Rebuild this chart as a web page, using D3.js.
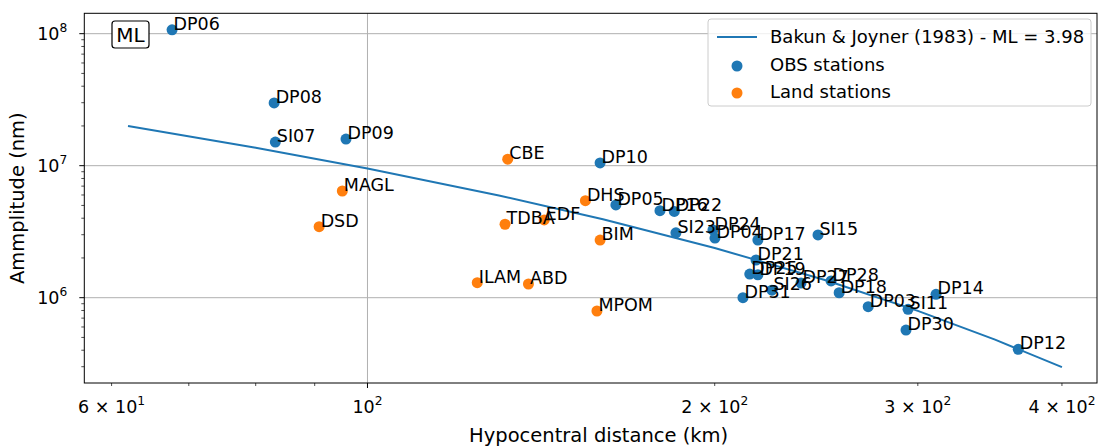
<!DOCTYPE html>
<html><head><meta charset="utf-8">
<script src="https://cdn.jsdelivr.net/npm/d3@7"></script>
<style>body{margin:0;background:#fff}svg{display:block}text{font-family:"DejaVu Sans",sans-serif;fill:#000}</style>
</head><body><svg id="c" width="1100" height="446"></svg>
<script>
// OBS stations
const obsNames = ["DP06","DP08","SI07","DP09","DP10","DP05","DP16","DP22","SI23","DP24","DP04","DP17","SI15","DP21","DP25","DP19","DP31","SI26","DP27","DP28","DP18","DP03","SI11","DP14","DP30","DP12"];
const obsDist  = [67.7,83.0,83.2,95.8,159.1,164.2,179.3,184.5,185.1,199.3,200.1,218.0,245.8,217.2,214.5,218.0,211.6,224.2,237.6,252.3,256.4,271.7,294.2,311.1,293.0,366.6];
const obsAmp   = [1.07e8,2.99e7,1.51e7,1.59e7,1.05e7,5.04e6,4.56e6,4.5e6,3.1e6,3.26e6,2.83e6,2.73e6,2.99e6,1.93e6,1.51e6,1.49e6,1.0e6,1.14e6,1.29e6,1.34e6,1.09e6,8.55e5,8.17e5,1.06e6,5.69e5,4.06e5];
// Land stations
const landNames = ["CBE","MAGL","DSD","TDBA","EDF","DHS","BIM","ILAM","ABD","MPOM"];
const landDist  = [132.3,95.1,90.8,131.6,142.3,154.5,159.1,124.5,137.9,158.1];
const landAmp   = [1.12e7,6.43e6,3.45e6,3.6e6,3.88e6,5.43e6,2.73e6,1.3e6,1.27e6,7.93e5];
// Bakun & Joyner (1983) curve, ML = 3.98
const bjDist = [62,80,100,130,160,200,250,300,350,400];
const bjAmp  = [2.0e7,1.37e7,9.53e6,5.95e6,3.93e6,2.38e6,1.35e6,7.94e5,4.81e5,2.98e5];
// axes ticks
const xTickVals = [60,100,200,300,400];
const xTickMant = ["6","","2","3","4"];
const xTickExp  = ["1","2","2","2","2"];
const xMinor = [60,70,80,90,200,300,400];
const yTickVals = [1e6,1e7,1e8];
const yTickExp  = ["6","7","8"];
const legendLabels = ["Bakun & Joyner (1983) - ML = 3.98","OBS stations","Land stations"];

const blue="#1f77b4", orange="#ff7f0e";
const L=84.3,R=1097,T=13.3,B=383;
const fs=17.5, fsLeg=18, fsTitle=19.5;
const svg=d3.select("#c");
const x=d3.scaleLog().domain([56.82,429.0]).range([L,R]);
const y=d3.scaleLog().domain([2.258e5,1.427e8]).range([B,T]);

// grid
const g=svg.append("g");
g.selectAll(".gx").data([100]).join("line").attr("x1",d=>x(d)).attr("x2",d=>x(d)).attr("y1",T).attr("y2",B).attr("stroke","#b0b0b0").attr("stroke-width",1);
g.selectAll(".gy").data(yTickVals).join("line").attr("y1",d=>y(d)).attr("y2",d=>y(d)).attr("x1",L).attr("x2",R).attr("stroke","#b0b0b0").attr("stroke-width",1);

// y minor ticks
const yMinor=[];
for(let e=5;e<=8;e++)for(let m=2;m<=9;m++){const v=m*Math.pow(10,e);if(v>=2.258e5&&v<=1.427e8)yMinor.push(v);}
svg.selectAll(".ym").data(yMinor).join("line").attr("x1",L-3).attr("x2",L).attr("y1",d=>y(d)).attr("y2",d=>y(d)).attr("stroke","#000").attr("stroke-width",0.7);
svg.selectAll(".yM").data(yTickVals).join("line").attr("x1",L-5).attr("x2",L).attr("y1",d=>y(d)).attr("y2",d=>y(d)).attr("stroke","#000").attr("stroke-width",1);
const yl=svg.selectAll(".yl").data(yTickVals).join("text").attr("x",L-17).attr("y",d=>y(d)+6).attr("text-anchor","end").attr("font-size",fs);
yl.append("tspan").text("10");
yl.append("tspan").attr("font-size",fs*0.7).attr("dy",-8).text((d,i)=>yTickExp[i]);

// x ticks
svg.selectAll(".xm").data(xMinor).join("line").attr("x1",d=>x(d)).attr("x2",d=>x(d)).attr("y1",B).attr("y2",B+3).attr("stroke","#000").attr("stroke-width",0.7);
svg.selectAll(".xM").data([100]).join("line").attr("x1",d=>x(d)).attr("x2",d=>x(d)).attr("y1",B).attr("y2",B+5).attr("stroke","#000").attr("stroke-width",1);
const xl=svg.selectAll(".xl").data(xTickVals).join("text").attr("x",d=>x(d)).attr("y",B+30).attr("text-anchor","middle").attr("font-size",fs);
xl.append("tspan").text((d,i)=>xTickMant[i]?xTickMant[i]+" \u00d7 10":"10");
xl.append("tspan").attr("font-size",fs*0.7).attr("dy",-8).text((d,i)=>xTickExp[i]);

// scatter
svg.append("g").selectAll("circle").data(obsNames).join("circle").attr("cx",(d,i)=>x(obsDist[i])).attr("cy",(d,i)=>y(obsAmp[i])).attr("r",5.5).attr("fill",blue);
svg.append("g").selectAll("circle").data(landNames).join("circle").attr("cx",(d,i)=>x(landDist[i])).attr("cy",(d,i)=>y(landAmp[i])).attr("r",5.5).attr("fill",orange);

// line
const line=d3.line().x(d=>x(d[0])).y(d=>y(d[1]));
svg.append("path").datum(bjDist.map((d,i)=>[d,bjAmp[i]])).attr("d",line).attr("fill","none").attr("stroke",blue).attr("stroke-width",2);

// labels
svg.append("g").selectAll("text").data(obsNames).join("text").attr("x",(d,i)=>x(obsDist[i])+1.5).attr("y",(d,i)=>y(obsAmp[i])).attr("font-size",fs).text(d=>d);
svg.append("g").selectAll("text").data(landNames).join("text").attr("x",(d,i)=>x(landDist[i])+1.5).attr("y",(d,i)=>y(landAmp[i])).attr("font-size",fs).text(d=>d);

// frame
svg.append("rect").attr("x",L).attr("y",T).attr("width",R-L).attr("height",B-T).attr("fill","none").attr("stroke","#000").attr("stroke-width",1);

// ML box
svg.append("rect").attr("x",112).attr("y",21).attr("width",37).attr("height",27).attr("rx",3).attr("fill","#fff").attr("stroke","#000").attr("stroke-width",1.2);
svg.append("text").attr("x",130.5).attr("y",42).attr("text-anchor","middle").attr("font-size",20).text("ML");

// legend
const lg=svg.append("g");
lg.append("rect").attr("x",708).attr("y",19).attr("width",383).attr("height",87).attr("rx",3).attr("fill","#fff").attr("fill-opacity",0.8).attr("stroke","#ccc");
lg.append("line").attr("x1",717).attr("x2",757).attr("y1",37).attr("y2",37).attr("stroke",blue).attr("stroke-width",2);
lg.append("circle").attr("cx",737).attr("cy",66).attr("r",5.5).attr("fill",blue);
lg.append("circle").attr("cx",737).attr("cy",93).attr("r",5.5).attr("fill",orange);
lg.selectAll("text").data(legendLabels).join("text").attr("x",770).attr("y",(d,i)=>43+i*27.5).attr("font-size",fsLeg).text(d=>d);

// axis titles
svg.append("text").attr("x",(L+R)/2+8).attr("y",442).attr("text-anchor","middle").attr("font-size",fsTitle).text("Hypocentral distance (km)");
svg.append("text").attr("transform",`translate(24,${(T+B)/2}) rotate(-90)`).attr("text-anchor","middle").attr("font-size",fsTitle).text("Ammplitude (nm)");
</script></body></html>
